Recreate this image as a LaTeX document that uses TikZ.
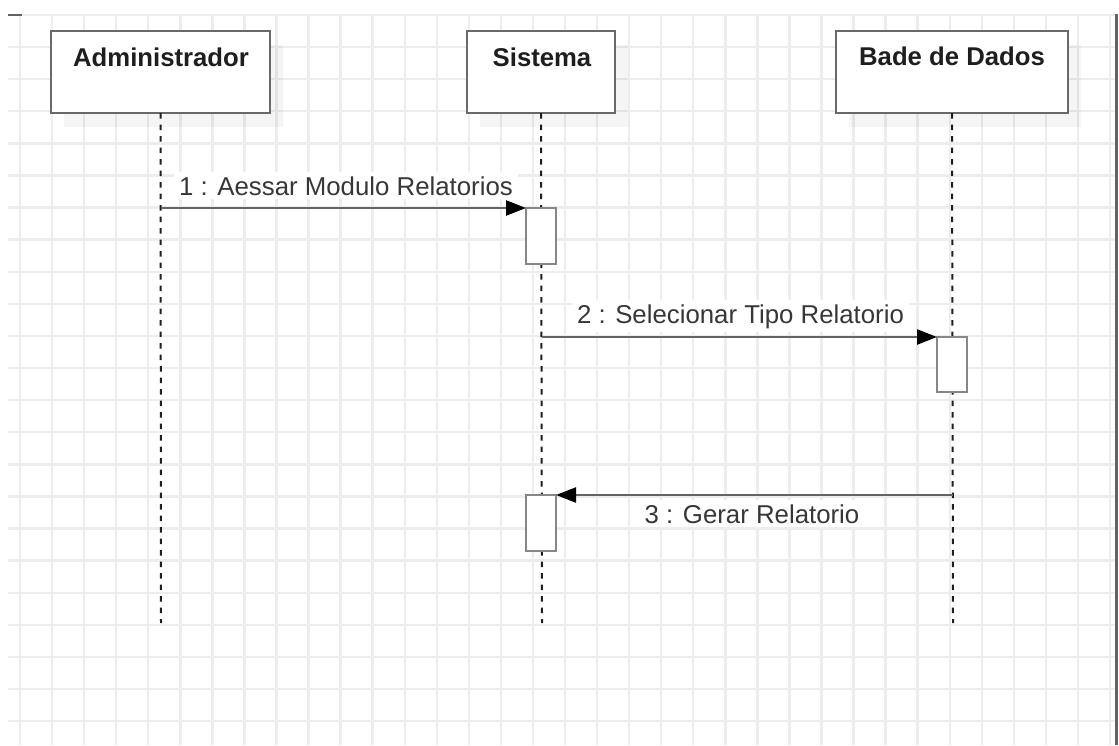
\documentclass[tikz,border=0pt]{standalone}
\usepackage{fontspec}
\setmainfont{Liberation Sans}
\usetikzlibrary{arrows.meta,shadows}
\definecolor{gridc}{RGB}{237,237,237}
\definecolor{boxc}{RGB}{105,105,105}
\definecolor{actc}{RGB}{135,135,135}
\definecolor{linec}{RGB}{100,100,100}
\definecolor{txtc}{RGB}{30,30,30}
\definecolor{lblc}{RGB}{55,55,55}
\begin{document}
\begin{tikzpicture}[x=1pt,y=-1pt,
  actor/.style={draw=boxc, line width=2.6pt, fill=white, minimum width=#1,
    minimum height=82pt, inner sep=0pt, outer sep=0pt,
    drop shadow={shadow xshift=13pt, shadow yshift=-14pt, fill=black, opacity=0.04}},
  hdr/.style={font=\fontsize{25.7}{30}\selectfont\bfseries, text=txtc, inner sep=0pt},
  actbox/.style={draw=actc, line width=2.6pt, fill=white, minimum width=30pt,
    minimum height=#1, inner sep=0pt, outer sep=0pt},
  lifeline/.style={draw=txtc, line width=2pt, dash pattern=on 5.5pt off 6pt},
  msg/.style={draw=linec, line width=2.4pt,
    -{Triangle[length=20pt,width=15pt,fill=black,color=black]}},
  lbl/.style={font=\fontsize{25.8}{30}\selectfont, text=lblc, fill=white,
    inner xsep=5pt, inner ysep=4pt}
]
\useasboundingbox (0,0) rectangle (1119,745);
\fill[white] (0,0) rectangle (1119,745);
% grid
\foreach \k in {0,...,34}{
  \draw[gridc, line width=2.4pt] ({20+32.06*\k},14) -- ({20+32.06*\k},745);
}
\foreach \k in {0,...,22}{
  \draw[gridc, line width=2.4pt] (8,{14.9+32.1*\k}) -- (1115,{14.9+32.1*\k});
}
% frame marks
\draw[linec, line width=3pt] (1116.5,14) -- (1116.5,745);
\draw[linec, line width=2pt] (8,14.5) -- (22,14.5);

% actors
\node[actor=219pt] (adm) at (160.5,72) {};
\node[actor=148pt] (sis) at (541,72) {};
\node[actor=232pt] (bd) at (952,72) {};
\node[hdr, anchor=base] (admT) at (161,66) {Administrador};
\node[hdr, anchor=base] (sisT) at (542,66) {Sistema};
\node[hdr, anchor=base] (bdT) at (952,65) {Bade de Dados};

% lifelines
\coordinate (admE) at (161,623);
\coordinate (sisE) at (542,623);
\coordinate (bdE) at (953,623);
\draw[lifeline] (adm.south) -- (admE);
\draw[lifeline] (sis.south) -- (sisE);
\draw[lifeline] (bd.south) -- (bdE);

% activation boxes
\node[actbox=56pt] (act1) at (541,236) {};
\node[actbox=55pt] (act2) at (952,364.5) {};
\node[actbox=56pt] (act3) at (541,523) {};

% messages
\coordinate (m1s) at (161,208);
\coordinate (m2s) at (542,337);
\coordinate (m3s) at (953,495);
\draw[msg] (m1s) -- (act1.north west);
\draw[msg] (m2s) -- (act2.north west);
\draw[msg] (m3s) -- (act3.north east);

% labels
\node[lbl, anchor=base] (l1) at (346,195) {1 : Aessar Modulo Relatorios};
\node[lbl, anchor=base] (l2) at (740.5,323) {2 : Selecionar Tipo Relatorio};
\node[lbl, anchor=base] (l3) at (752,523) {3 : Gerar Relatorio};
\end{tikzpicture}
\end{document}
